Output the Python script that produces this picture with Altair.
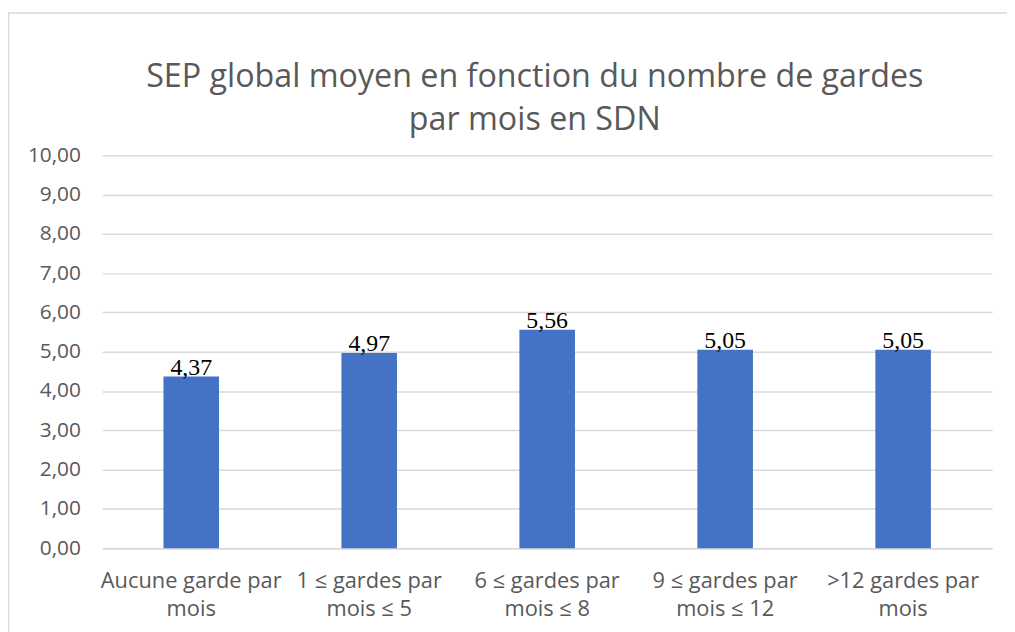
import altair as alt
import pandas as pd

categories = [
    "Aucune garde par\nmois",
    "1 ≤ gardes par\nmois ≤ 5",
    "6 ≤ gardes par\nmois ≤ 8",
    "9 ≤ gardes par\nmois ≤ 12",
    ">12 gardes par\nmois",
]
values = [4.37, 4.97, 5.56, 5.05, 5.05]
title_lines = ["SEP global moyen en fonction du nombre de gardes", "par mois en SDN"]
y_ticks = [0, 1, 2, 3, 4, 5, 6, 7, 8, 9, 10]

df = pd.DataFrame({"cat": categories, "val": values})

W, H = 897, 396
PAD_L, PAD_T = 95, 146
PAD_R = 1015 - 16 - W - PAD_L + 8
PAD_B = 632 - 16 - H - PAD_T + 8

base = alt.Chart(df)

frame = alt.Chart(pd.DataFrame({"k": [0]})).mark_rect(
    fill=None, stroke="#d9d9d9", strokeWidth=1.5, clip=False
).encode(
    x=alt.value(-PAD_L + 0.5), x2=alt.value(W + 200),
    y=alt.value(-PAD_T + 2.5), y2=alt.value(H + 200),
)

title_layers = []
for i, line in enumerate(title_lines):
    title_layers.append(
        alt.Chart(pd.DataFrame({"t": [line]})).mark_text(
            font="Open Sans", fontSize=32.5, color="#595959", align="center",
            baseline="alphabetic", clip=False
        ).encode(x=alt.value(436), y=alt.value(-69 + 43 * i), text="t:N")
    )

x_enc = alt.X("cat:N", sort=categories, title=None,
              scale=alt.Scale(paddingInner=0.0, paddingOuter=0.0),
              axis=alt.Axis(labelExpr="split(datum.label, '\\n')", labelAngle=0,
                            labelFont="Open Sans", labelFontSize=22, labelColor="#595959",
                            labelLineHeight=28, labelPadding=23, ticks=False,
                            labelOverlap=False, labelLimit=400,
                            domainColor="#d9d9d9", domainWidth=1.5, grid=False))
y_enc = alt.Y("val:Q", title=None,
              scale=alt.Scale(domain=[0, 10], nice=False),
              axis=alt.Axis(values=y_ticks, tickCount=len(y_ticks),
                            labelExpr="replace(format(datum.value, '.2f'), '.', ',')",
                            labelFont="Open Sans", labelFontSize=21, labelColor="#595959",
                            labelPadding=22, ticks=False, domain=False, labelOverlap=False,
                            gridColor="#d9d9d9", gridWidth=1.5))

bars = base.mark_bar(color="#4472C4", size=56).encode(x=x_enc, y=y_enc)

labels = base.transform_calculate(
    lab="replace(format(datum.val, '.2f'), '.', ',')"
).mark_text(font="Liberation Serif", fontSize=24, color="#000000",
            baseline="alphabetic", dy=-2).encode(
    x=x_enc,
    y=y_enc,
    text="lab:N",
)

chart = alt.layer(frame, *title_layers, bars, labels).properties(
    width=W, height=H,
    autosize=alt.AutoSizeParams(type="none"),
    padding={"left": PAD_L, "top": PAD_T, "right": PAD_R, "bottom": PAD_B},
).configure_view(stroke=None)

chart.save("out.html", embed_options={"renderer": "svg", "actions": False})
